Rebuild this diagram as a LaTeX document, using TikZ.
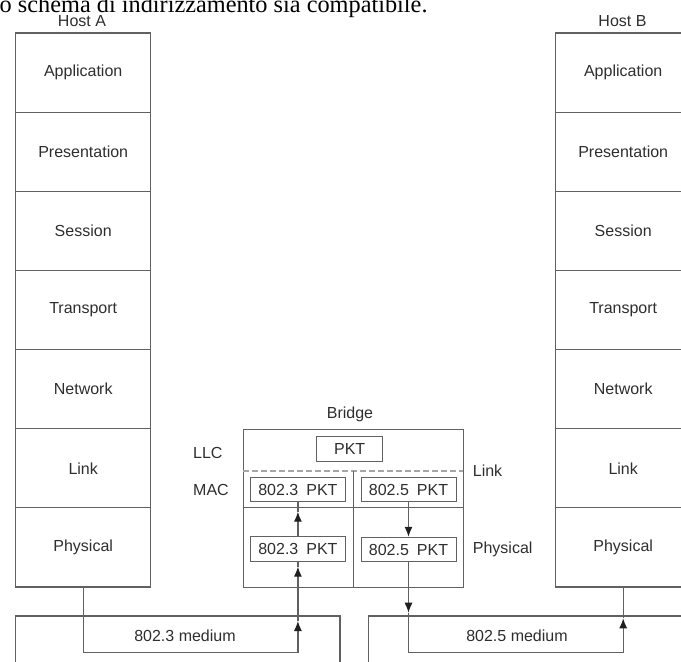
\documentclass[tikz,border=0pt]{standalone}
\usepackage{fontspec}
\setmainfont{Liberation Sans}
\newfontfamily\serifface{Liberation Serif}
\usetikzlibrary{arrows.meta}

\begin{document}
\begin{tikzpicture}[x=1pt,y=-1pt,
  wire/.style={draw=black!62, line width=1.2pt},
  lbl/.style={text=black!82, font=\fontsize{16}{19}\selectfont, inner sep=0pt},
  layer/.style={wire, lbl, minimum width=135pt, minimum height=79.14pt},
  pkt/.style={wire, lbl, line width=1pt, minimum height=24.5pt},
  tip/.style={wire, -{Latex[length=10pt,width=8pt,color=black!88]}},
  sep/.style={draw=black!35, line width=2pt, dash pattern=on 6pt off 3pt}
]
\useasboundingbox (0,0) rectangle (681,662);
\clip (0,0) rectangle (681,662);

% running text above the figure
\node[anchor=base west, inner sep=0pt, font=\serifface\fontsize{24.3}{28}\selectfont]
  (caption) at (-0.5,12) {o schema di indirizzamento sia compatibile.};

% the two protocol stacks
\node[lbl] (hostA) at (82,21) {Host A};
\node[lbl] (hostB) at (622.5,21) {Host B};
\foreach \nm/\txt [count=\i from 0] in
  {app/Application, pre/Presentation, ses/Session, tra/Transport,
   net/Network, lnk/Link, phy/Physical} {
  \node[layer] (a\nm) at (83.2, {72.6+79.14*\i}) {\txt};
  \node[layer] (b\nm) at (623.2, {72.6+79.14*\i}) {\txt};
}

% the bridge
\node[lbl] (bridgelbl) at (350,414) {Bridge};
\node[wire, minimum width=220pt, minimum height=158pt, inner sep=0pt] (bridge) at (353.3,508.3) {};
\coordinate (dl) at (243.3,470.7);
\coordinate (dr) at (463.3,470.7);
\coordinate (sl) at (243.3,507.3);
\coordinate (sr) at (463.3,507.3);
\draw[sep] (dl) -- (dr);
\draw[wire] (sl) -- (sr);
\draw[wire] (bridge.south) -- (bridge.south |- dl);

\node[lbl, anchor=west] (llc) at (193,452.7) {LLC};
\node[lbl, anchor=west] (mac) at (193,490) {MAC};
\node[lbl, anchor=west] (linklbl) at (472.7,470.7) {Link};
\node[lbl, anchor=west] (phylbl) at (472.7,549.3) {Physical};

\node[pkt, minimum width=66pt] (llcpkt) at (349.7,449.2) {PKT};
\node[pkt, minimum width=95.7pt] (b3up) at (297.9,489.5) {802.3\hspace{0.5em}PKT};
\node[pkt, minimum width=95.7pt] (b3lo) at (297.9,549.2) {802.3\hspace{0.5em}PKT};
\node[pkt, minimum width=95pt] (b5up) at (408.5,489.5) {802.5\hspace{0.5em}PKT};
\node[pkt, minimum width=95pt] (b5lo) at (408.5,549.5) {802.5\hspace{0.5em}PKT};

% the two LAN media
\draw[wire] (15.7,672) |- (340,616) -- (340,672);
\draw[wire] (368.3,672) |- (700,616);
\node[lbl] (med3) at (185,636) {802.3 medium};
\node[lbl] (med5) at (517,636) {802.5 medium};

% path of the frame: Host A -> 802.3 medium -> bridge
\coordinate (ra) at (297.9,652.7);
\coordinate (tA1) at (297.9,621);
\coordinate (tA2) at (297.9,566.7);
\coordinate (tA3) at (297.9,511.7);
\draw[wire] (aphy.south) |- (ra);
\draw[tip] (ra) -- (tA1);
\draw[tip] (tA1) -- (tA2);
\draw[wire] (tA2) -- (b3lo.south);
\draw[tip] (b3lo.north) -- (tA3);
\draw[wire] (tA3) -- (b3up.south);

% bridge -> 802.5 medium -> Host B
\coordinate (tB1) at (408.5,612.7);
\coordinate (rb) at (623.2,652.7);
\coordinate (tB2) at (623.2,618.3);
\draw[tip] (b5up.south) -- (b5lo.north);
\draw[tip] (b5lo.south) -- (tB1);
\draw[wire] (tB1) |- (rb);
\draw[tip] (rb) -- (tB2);
\draw[wire] (tB2) -- (bphy.south);
\end{tikzpicture}
\end{document}
